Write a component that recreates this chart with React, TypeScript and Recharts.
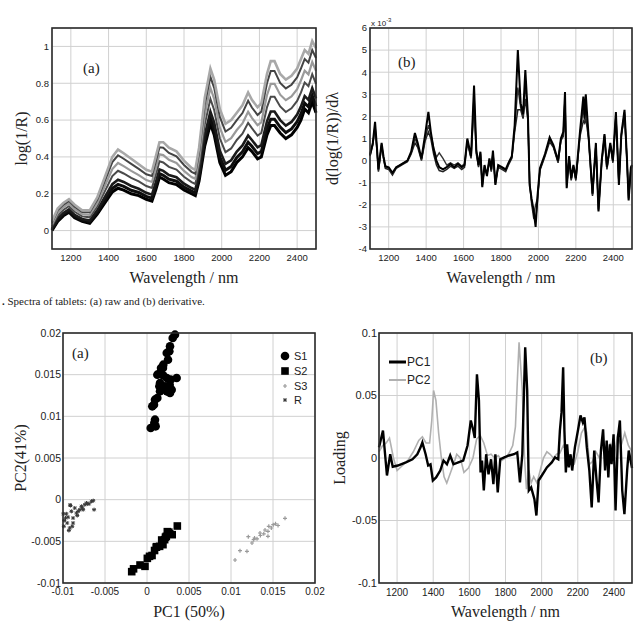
import React from "react";
import {
  LineChart,
  Line,
  XAxis,
  YAxis,
  CartesianGrid,
  ScatterChart,
  Scatter,
} from "recharts";

const SANS = "'Liberation Sans', Arial, sans-serif";
const SERIF = "'Liberation Serif', 'Times New Roman', serif";
const GRID = "#d0d0d0";
const FRAME = "#2b2b2b";

// ---------- (a) raw NIR spectra, log(1/R) ----------
const wavelengths = [
  1100, 1130, 1160, 1190, 1220, 1260, 1300, 1340, 1380, 1420,
  1450, 1480, 1520, 1560, 1600, 1630, 1650, 1670, 1690, 1720,
  1760, 1800, 1840, 1860, 1880, 1910, 1940, 1960, 1990, 2020,
  2050, 2080, 2110, 2140, 2160, 2190, 2210, 2240, 2260, 2280,
  2310, 2340, 2370, 2400, 2420, 2440, 2460, 2480, 2500,
];
const raw1 = [
  0.05, 0.12, 0.15, 0.17, 0.14, 0.11, 0.11, 0.18, 0.29, 0.4,
  0.44, 0.42, 0.39, 0.36, 0.33, 0.32, 0.4, 0.48, 0.48, 0.45,
  0.43, 0.38, 0.34, 0.33, 0.45, 0.72, 0.88, 0.82, 0.66, 0.58,
  0.6, 0.64, 0.68, 0.75, 0.71, 0.67, 0.69, 0.85, 0.92, 0.92,
  0.85, 0.82, 0.84, 0.88, 0.93, 0.98, 0.96, 1.03, 0.99,
];
const raw2 = [
  0.043, 0.11, 0.14, 0.16, 0.13, 0.101, 0.1, 0.167, 0.269, 0.372,
  0.409, 0.39, 0.362, 0.335, 0.306, 0.296, 0.373, 0.452, 0.45, 0.422,
  0.403, 0.356, 0.319, 0.309, 0.423, 0.681, 0.835, 0.775, 0.617, 0.538,
  0.558, 0.6, 0.638, 0.705, 0.668, 0.628, 0.646, 0.8, 0.867, 0.867,
  0.802, 0.772, 0.792, 0.832, 0.88, 0.932, 0.912, 0.98, 0.937,
];
const raw3 = [
  0.033, 0.096, 0.126, 0.146, 0.116, 0.089, 0.086, 0.149, 0.241, 0.334,
  0.367, 0.35, 0.324, 0.301, 0.274, 0.264, 0.337, 0.414, 0.41, 0.384,
  0.367, 0.324, 0.291, 0.281, 0.387, 0.629, 0.775, 0.715, 0.559, 0.482,
  0.502, 0.546, 0.582, 0.645, 0.612, 0.572, 0.588, 0.735, 0.797, 0.797,
  0.738, 0.708, 0.728, 0.768, 0.815, 0.868, 0.848, 0.915, 0.867,
];
const raw4 = [
  0.023, 0.082, 0.112, 0.132, 0.102, 0.077, 0.072, 0.131, 0.213, 0.296,
  0.325, 0.31, 0.286, 0.267, 0.242, 0.232, 0.301, 0.376, 0.37, 0.346,
  0.331, 0.292, 0.263, 0.253, 0.351, 0.577, 0.715, 0.655, 0.501, 0.426,
  0.446, 0.492, 0.526, 0.585, 0.556, 0.516, 0.53, 0.669, 0.727, 0.727,
  0.674, 0.644, 0.664, 0.704, 0.749, 0.804, 0.784, 0.849, 0.797,
];
const raw5 = [
  0.011, 0.065, 0.095, 0.115, 0.085, 0.063, 0.055, 0.11, 0.181, 0.252,
  0.276, 0.264, 0.242, 0.227, 0.205, 0.195, 0.26, 0.332, 0.324, 0.302,
  0.29, 0.255, 0.231, 0.221, 0.31, 0.517, 0.646, 0.586, 0.434, 0.362,
  0.382, 0.429, 0.462, 0.516, 0.492, 0.452, 0.464, 0.593, 0.647, 0.647,
  0.6, 0.57, 0.59, 0.63, 0.673, 0.73, 0.71, 0.773, 0.717,
];
const raw6 = [
  0.005, 0.057, 0.087, 0.107, 0.077, 0.056, 0.047, 0.099, 0.164, 0.229,
  0.251, 0.24, 0.219, 0.207, 0.186, 0.176, 0.238, 0.309, 0.3, 0.279,
  0.268, 0.236, 0.214, 0.204, 0.288, 0.486, 0.61, 0.55, 0.399, 0.328,
  0.348, 0.397, 0.428, 0.48, 0.458, 0.418, 0.429, 0.553, 0.605, 0.605,
  0.562, 0.532, 0.552, 0.592, 0.633, 0.692, 0.672, 0.733, 0.675,
];
const raw7 = [
  0.0, 0.05, 0.08, 0.1, 0.07, 0.05, 0.04, 0.09, 0.15, 0.21,
  0.23, 0.22, 0.2, 0.19, 0.17, 0.16, 0.22, 0.29, 0.28, 0.26,
  0.25, 0.22, 0.2, 0.19, 0.27, 0.46, 0.58, 0.52, 0.37, 0.3,
  0.32, 0.37, 0.4, 0.45, 0.43, 0.39, 0.4, 0.52, 0.57, 0.57,
  0.53, 0.5, 0.52, 0.56, 0.6, 0.66, 0.64, 0.7, 0.64,
];
const rawTicksY = [0, 0.2, 0.4, 0.6, 0.8, 1];

// ---------- (b) first derivative, units of 1e-3 ----------
const derivNm = [
  1100, 1115, 1127, 1137, 1145, 1155, 1162, 1172, 1182, 1200,
  1220, 1240, 1260, 1280, 1300, 1320, 1340, 1355, 1375, 1395,
  1412, 1425, 1440, 1455, 1470, 1490, 1510, 1530, 1550, 1570,
  1590, 1605, 1620, 1640, 1656, 1668, 1680, 1690, 1700, 1712,
  1725, 1738, 1748, 1757, 1770, 1785, 1805, 1825, 1840, 1858,
  1873, 1890, 1905, 1918, 1930, 1944, 1953, 1963, 1975, 1985,
  1995, 2008, 2035, 2060, 2080, 2105, 2120, 2133, 2142, 2151,
  2164, 2175, 2187, 2200, 2222, 2240, 2247, 2253, 2268, 2289,
  2307, 2321, 2338, 2353, 2366, 2384, 2398, 2414, 2430, 2443,
  2460, 2473, 2482, 2494, 2500,
];
const derivHigh = [
  0.25, 0.8, 1.75, 0.6, -0.4, 0.3, 0.8, 0.2, -0.25, -0.3,
  -0.55, -0.3, -0.2, -0.1, 0.0, 0.4, 1.25, 0.8, 0.1, 1.2,
  2.2, 1.3, 0.5, 0.0, -0.3, -0.4, -0.3, -0.15, -0.3, -0.15,
  -0.3, -0.2, 1.0, 0.2, 3.4, 0.5, -0.2, 0.4, -1.2, -0.2,
  -0.7, 0.1, -0.4, 0.45, -1.1, -0.2, -0.3, -0.4, -0.1, 0.2,
  1.6, 5.0, 2.6, 2.1, 4.1, 2.0, -1.1, -1.7, -2.3, -3.0,
  -1.6, -0.35, 0.3, 1.05, 0.7, 0.0, 1.0, 1.3, 3.1, -1.25,
  0.2, -0.8, -0.2, -0.8, 1.3, 2.9, 1.9, 3.0, 1.1, -1.5,
  0.8, -2.3, 0.0, 1.2, -0.3, 0.8, 0.0, 2.2, -1.1, 1.2,
  2.3, 0.1, -1.8, -0.3, -0.2,
];
const derivMid = [
  0.3, 0.75, 1.6, 0.55, -0.45, 0.25, 0.75, 0.15, -0.3, -0.35,
  -0.6, -0.3, -0.2, -0.1, 0.0, 0.35, 1.0, 0.7, 0.05, 1.0,
  1.6, 1.2, 0.6, 0.15, 0.35, 0.1, -0.2, -0.1, -0.2, -0.1,
  -0.25, -0.15, 0.9, 0.15, 3.0, 0.4, -0.25, 0.35, -1.15, -0.25,
  -0.65, 0.05, -0.45, 0.4, -1.05, -0.25, -0.35, -0.45, -0.15, 0.15,
  1.45, 3.3, 2.4, 2.0, 3.5, 1.9, -1.05, -1.8, -2.4, -2.0,
  -1.7, -0.4, 0.25, 0.95, 0.65, -0.05, 0.95, 1.2, 2.9, -1.2,
  0.15, -0.85, -0.25, -0.85, 1.2, 2.4, 1.8, 2.5, 1.05, -1.55,
  0.75, -2.25, -0.05, 1.15, -0.35, 0.75, -0.05, 2.1, -1.05, 1.15,
  2.2, 0.05, -1.75, -0.35, -0.25,
];
const derivLow = [
  0.2, 0.7, 1.5, 0.5, -0.5, 0.2, 0.7, 0.1, -0.35, -0.4,
  -0.65, -0.35, -0.25, -0.15, -0.05, 0.3, 0.8, 0.6, 0.0, 0.9,
  1.3, 1.0, 0.3, -0.2, -0.45, -0.5, -0.4, -0.25, -0.35, -0.25,
  -0.4, -0.3, 0.8, 0.1, 2.6, 0.3, -0.3, 0.3, -1.1, -0.3,
  -0.6, 0.0, -0.5, 0.3, -1.0, -0.3, -0.4, -0.5, -0.2, 0.1,
  1.3, 2.3, 2.3, 1.9, 2.8, 1.8, -1.0, -1.9, -2.6, -2.7,
  -1.8, -0.45, 0.2, 0.85, 0.6, -0.1, 0.9, 1.1, 2.8, -1.1,
  0.1, -0.9, -0.3, -0.9, 1.1, 1.8, 1.7, 1.9, 1.0, -1.6,
  0.7, -2.2, -0.1, 1.1, -0.4, 0.7, -0.1, 2.0, -1.0, 1.1,
  2.1, 0.0, -1.7, -0.4, -0.3,
];
const derivTicksY = [-4, -3, -2, -1, 0, 1, 2, 3, 4, 5, 6];

const nmTicks = [1200, 1400, 1600, 1800, 2000, 2200, 2400];

// ---------- PCA scores: [PC1, PC2] ----------
const scoresS1 = [
  [0.00333, 0.0198], [0.00306, 0.0194], [0.00274, 0.0184], [0.00266, 0.0178],
  [0.00235, 0.0176], [0.0025, 0.0168], [0.00194, 0.0162], [0.00167, 0.0158],
  [0.0019, 0.0158], [0.00155, 0.0152], [0.00123, 0.015], [0.00194, 0.0149],
  [0.00235, 0.0146], [0.00282, 0.0144], [0.00353, 0.0146], [0.00155, 0.014],
  [0.0027, 0.0138], [0.00147, 0.0136], [0.00214, 0.0136], [0.00254, 0.0134],
  [0.00294, 0.0132], [0.00155, 0.013], [0.00235, 0.013], [0.00274, 0.0128],
  [0.00123, 0.0122], [0.00095, 0.012], [0.00083, 0.0114], [0.00063, 0.0112],
  [0.00095, 0.0096], [0.00087, 0.0092], [0.00103, 0.0088], [0.00044, 0.0086],
];
const scoresS2 = [
  [-0.00182, -0.00864], [-0.0016, -0.0083], [-0.00083, -0.00784], [-0.00024, -0.008],
  [0.00004, -0.00704], [0.0003, -0.0068], [0.0006, -0.0067], [0.0009, -0.0061],
  [0.00115, -0.00564], [0.0011, -0.0057], [0.0015, -0.0056], [0.00175, -0.00484],
  [0.0019, -0.0054], [0.0021, -0.0048], [0.0023, -0.0044], [0.00242, -0.00384],
  [0.0027, -0.0041], [0.003, -0.0042], [0.00361, -0.00316], [0.0018, -0.005],
  [0.0022, -0.0045], [0.0026, -0.0039],
];
const scoresS3 = [
  [0.01048, -0.00724], [0.01107, -0.00612], [0.0119, -0.0062], [0.01206, -0.00444],
  [0.0125, -0.0052], [0.0127, -0.0048], [0.0131, -0.0047], [0.01345, -0.004],
  [0.01405, -0.00364], [0.0144, -0.0038], [0.0145, -0.0032], [0.01503, -0.003],
  [0.0153, -0.0029], [0.01643, -0.00224], [0.0144, -0.0044], [0.0139, -0.0041],
  [0.0135, -0.0043], [0.0128, -0.0046], [0.0148, -0.0034], [0.0156, -0.0031],
];
const scoresR = [
  [-0.00985, -0.0025], [-0.0096, -0.0017], [-0.0094, -0.0021], [-0.00917, -0.00064],
  [-0.009, -0.0014], [-0.0088, -0.0028], [-0.0088, -0.0022], [-0.0086, -0.001],
  [-0.0084, -0.0016], [-0.0082, -0.0014], [-0.008, -0.0012], [-0.0078, -0.0008],
  [-0.0076, -0.0012], [-0.0074, -0.0006], [-0.0072, -0.0004], [-0.0069, -0.0005],
  [-0.0066, -0.0002], [-0.0064, -0.00012], [-0.0063, -0.0012], [-0.0092, -0.0034],
  [-0.0089, -0.0032], [-0.00995, -0.0017], [-0.0099, -0.0032], [-0.0095, -0.0028],
  [-0.0093, -0.0037], [-0.0091, -0.0007], [-0.0071, -0.0005], [-0.0097, -0.0022],
  [-0.0083, -0.0019], [-0.0077, -0.001],
];
const scoreTicks = [-0.01, -0.005, 0, 0.005, 0.01, 0.015, 0.02];

// ---------- PCA loadings ----------
const pc1Nm = [
  1100, 1122, 1144, 1162, 1176, 1204, 1249, 1285, 1312, 1330,
  1340, 1358, 1372, 1385, 1398, 1416, 1439, 1457, 1476, 1494,
  1512, 1539, 1566, 1590, 1608, 1622, 1630, 1642, 1653, 1662,
  1670, 1680, 1693, 1706, 1720, 1733, 1744, 1757, 1771, 1793,
  1820, 1847, 1865, 1880, 1893, 1909, 1920, 1929, 1942, 1960,
  1971, 1983, 2001, 2029, 2056, 2074, 2092, 2101, 2110, 2119,
  2126, 2134, 2141, 2150, 2160, 2169, 2184, 2202, 2215, 2228,
  2237, 2250, 2264, 2277, 2291, 2304, 2315, 2328, 2340, 2351,
  2360, 2369, 2378, 2387, 2398, 2409, 2422, 2433, 2446, 2458,
  2473, 2482, 2500,
];
const pc1Loading = [
  0.0085, 0.022, -0.014, 0.003, -0.007, -0.006, -0.0035, -0.001, 0.003, 0.0085,
  0.0125, 0.003, -0.006, -0.005, -0.018, -0.0155, -0.01, -0.002, -0.005, 0.002,
  -0.005, -0.0035, -0.002, 0.01, 0.03, 0.022, 0.016, 0.067, 0.046, -0.0115,
  -0.002, -0.026, 0.003, -0.013, -0.001, -0.021, 0.003, -0.0275, -0.001, 0.0005,
  0.002, 0.003, 0.0045, -0.0195, 0.003, 0.0885, 0.054, -0.026, -0.0235, -0.033,
  -0.046, -0.018, -0.014, -0.0075, -0.0035, 0.0005, -0.001, 0.022, 0.0365, 0.0725,
  0.022, -0.0115, 0.011, -0.0075, 0.003, -0.01, 0.0085, 0.023, 0.034, 0.0285,
  0.0325, 0.0085, -0.01, -0.0395, 0.006, -0.018, -0.0355, 0.006, 0.023, -0.01,
  0.014, -0.0155, 0.011, -0.005, 0.019, -0.042, 0.0165, 0.03, -0.026, -0.045,
  -0.01, 0.006, -0.008,
];
const pc2Nm = [
  1100, 1120, 1140, 1158, 1180, 1200, 1230, 1260, 1290, 1320,
  1340, 1360, 1380, 1392, 1402, 1415, 1430, 1445, 1460, 1475,
  1495, 1515, 1530, 1550, 1570, 1595, 1620, 1640, 1660, 1680,
  1700, 1720, 1740, 1760, 1780, 1800, 1820, 1840, 1855, 1865,
  1875, 1893, 1905, 1916, 1929, 1942, 1956, 1974, 1992, 2010,
  2029, 2047, 2065, 2083, 2101, 2120, 2140, 2160, 2180, 2200,
  2220, 2240, 2250, 2265, 2280, 2300, 2320, 2340, 2360, 2380,
  2400, 2420, 2440, 2460, 2480, 2500,
];
const pc2Loading = [
  0.005, 0.01, 0.012, 0.016, 0.0, -0.01, -0.006, -0.002, 0.005, 0.014,
  0.017, 0.012, 0.012, 0.03, 0.054, 0.046, 0.02, 0.0, -0.015, -0.02,
  -0.012, -0.004, 0.003, 0.0, -0.0115, -0.008, 0.0, 0.015, 0.018, 0.012,
  0.002, 0.003, 0.0, 0.002, -0.002, 0.0, 0.004, 0.01, 0.025, 0.06,
  0.0925, 0.054, 0.0, -0.025, -0.01, -0.02, -0.015, -0.02, -0.01, 0.0,
  0.005, 0.003, 0.0, 0.003, 0.004, 0.01, 0.005, -0.005, -0.005, 0.005,
  0.02, 0.025, 0.02, -0.005, -0.003, 0.005, 0.0, 0.01, 0.0, 0.012,
  0.0, 0.018, 0.01, 0.02, 0.01, 0.005,
];
const loadingTicks = [-0.1, -0.05, 0, 0.05, 0.1];

// table rows for the shared-x line charts
const rawSeries = [
  { key: "raw7", values: raw7, color: "#000", width: 3 },
  { key: "raw6", values: raw6, color: "#0d0d0d", width: 3 },
  { key: "raw5", values: raw5, color: "#1a1a1a", width: 2.6 },
  { key: "raw4", values: raw4, color: "#4a4a4a", width: 2 },
  { key: "raw3", values: raw3, color: "#9a9a9a", width: 2.2 },
  { key: "raw2", values: raw2, color: "#444", width: 2 },
  { key: "raw1", values: raw1, color: "#a8a8a8", width: 2.6 },
];
const rawRows = wavelengths.map((nm, i) => {
  const row: Record<string, number> = { nm };
  rawSeries.forEach((s) => (row[s.key] = s.values[i]));
  return row;
});

const derivSeries = [
  { key: "low", values: derivLow, color: "#222", width: 1.5 },
  { key: "mid", values: derivMid, color: "#333", width: 1.4 },
  { key: "high", values: derivHigh, color: "#000", width: 2 },
];
const derivRows = derivNm.map((nm, i) => {
  const row: Record<string, number> = { nm };
  derivSeries.forEach((s) => (row[s.key] = s.values[i]));
  return row;
});

const pc1Rows = pc1Nm.map((nm, i) => ({ nm, v: pc1Loading[i] }));
const pc2Rows = pc2Nm.map((nm, i) => ({ nm, v: pc2Loading[i] }));
const toXY = (pts: number[][]) => pts.map(([pc1, pc2]) => ({ pc1, pc2 }));

const tick = (size: number) => ({ fontSize: size, fill: "#222", fontFamily: SANS });
const titleStyle = { fontFamily: SERIF, fontSize: 16, fill: "#222" };
const yTitle = (value: string, offset: number) => ({
  value,
  angle: -90,
  position: "insideLeft" as const,
  offset,
  style: { ...titleStyle, textAnchor: "middle" },
});
const xTitle = (value: string, offset: number) => ({
  value,
  position: "insideBottom" as const,
  offset,
  style: titleStyle,
});

// scatter markers
const CircleMark = (p: any) => <circle cx={p.cx} cy={p.cy} r={4.3} fill="#000" />;
const SquareMark = (p: any) => (
  <rect x={p.cx - 3.8} y={p.cy - 3.8} width={7.6} height={7.6} fill="#000" />
);
const PlusMark = (p: any) => (
  <path
    d={`M${p.cx - 2},${p.cy}h4M${p.cx},${p.cy - 2}v4`}
    stroke="#9a9a9a"
    strokeWidth={1.2}
  />
);
const StarMark = (p: any) => (
  <path
    d={`M${p.cx - 2},${p.cy}h4M${p.cx},${p.cy - 2}v4M${p.cx - 1.5},${p.cy - 1.5}l3,3M${p.cx - 1.5},${p.cy + 1.5}l3,-3`}
    stroke="#3a3a3a"
    strokeWidth={1}
  />
);

// axes box around a plot area, as a plain svg rectangle
function PlotFrame({ left, top, width, height }: { left: number; top: number; width: number; height: number }) {
  return (
    <svg
      width={width + 6}
      height={height + 6}
      style={{ position: "absolute", left: left - 3, top: top - 3, pointerEvents: "none" }}
    >
      <rect x={3} y={3} width={width} height={height} fill="none" stroke={FRAME} strokeWidth={1.6} />
    </svg>
  );
}

function RawPanel() {
  return (
    <LineChart width={322} height={290} data={rawRows} margin={{ top: 28, right: 6, bottom: 0, left: 0 }}>
      <CartesianGrid stroke={GRID} />
      <XAxis
        dataKey="nm"
        type="number"
        domain={[1100, 2500]}
        ticks={nmTicks}
        interval={0}
        height={41}
        axisLine={false}
        tickLine={false}
        tickSize={0}
        tickMargin={5}
        tick={tick(9.5)}
        label={xTitle("Wavelength / nm", 7)}
      />
      <YAxis
        type="number"
        domain={[-0.1, 1.1]}
        ticks={rawTicksY}
        interval={0}
        width={52}
        axisLine={false}
        tickLine={false}
        tickSize={0}
        tickMargin={3}
        tick={tick(9.5)}
        label={yTitle("log(1/R)", 21)}
      />
      {rawSeries.map((s) => (
        <Line
          key={s.key}
          dataKey={s.key}
          type="linear"
          stroke={s.color}
          strokeWidth={s.width}
          dot={false}
          isAnimationActive={false}
        />
      ))}
    </LineChart>
  );
}

function DerivativePanel() {
  return (
    <LineChart width={318} height={290} data={derivRows} margin={{ top: 28, right: 6, bottom: 0, left: 0 }}>
      <CartesianGrid stroke={GRID} />
      <XAxis
        dataKey="nm"
        type="number"
        domain={[1100, 2500]}
        ticks={nmTicks}
        interval={0}
        height={41}
        axisLine={false}
        tickLine={false}
        tickSize={0}
        tickMargin={5}
        tick={tick(9.5)}
        label={xTitle("Wavelength / nm", 7)}
      />
      <YAxis
        type="number"
        domain={[-4, 6]}
        ticks={derivTicksY}
        interval={0}
        width={50}
        axisLine={false}
        tickLine={false}
        tickSize={0}
        tickMargin={3}
        tick={tick(9.5)}
        label={yTitle("d(log(1/R))/dλ", 12)}
      />
      {derivSeries.map((s) => (
        <Line
          key={s.key}
          dataKey={s.key}
          type="linear"
          stroke={s.color}
          strokeWidth={s.width}
          dot={false}
          isAnimationActive={false}
        />
      ))}
    </LineChart>
  );
}

function ScoresPanel() {
  return (
    <ScatterChart width={332} height={316} margin={{ top: 23, right: 17, bottom: 0, left: 0 }}>
      <CartesianGrid stroke={GRID} />
      <XAxis
        dataKey="pc1"
        type="number"
        domain={[-0.01, 0.02]}
        ticks={scoreTicks}
        interval={0}
        height={43}
        axisLine={false}
        tickLine={false}
        tickSize={0}
        tickMargin={5}
        tick={tick(10)}
        label={xTitle("PC1 (50%)", 9)}
      />
      <YAxis
        dataKey="pc2"
        type="number"
        domain={[-0.01, 0.02]}
        ticks={scoreTicks}
        interval={0}
        width={63}
        axisLine={false}
        tickLine={false}
        tickSize={0}
        tickMargin={2}
        tick={tick(10.5)}
        label={yTitle("PC2(41%)", 20)}
      />
      <Scatter name="R" data={toXY(scoresR)} shape={StarMark} isAnimationActive={false} />
      <Scatter name="S3" data={toXY(scoresS3)} shape={PlusMark} isAnimationActive={false} />
      <Scatter name="S2" data={toXY(scoresS2)} shape={SquareMark} isAnimationActive={false} />
      <Scatter name="S1" data={toXY(scoresS1)} shape={CircleMark} isAnimationActive={false} />
    </ScatterChart>
  );
}

function LoadingsPanel() {
  return (
    <LineChart width={318} height={316} margin={{ top: 23, right: 6, bottom: 0, left: 0 }}>
      <CartesianGrid stroke={GRID} />
      <XAxis
        dataKey="nm"
        type="number"
        domain={[1100, 2500]}
        ticks={nmTicks}
        interval={0}
        height={43}
        axisLine={false}
        tickLine={false}
        tickSize={0}
        tickMargin={6}
        tick={tick(10)}
        label={xTitle("Wavelength / nm", 9)}
      />
      <YAxis
        type="number"
        domain={[-0.1, 0.1]}
        ticks={loadingTicks}
        interval={0}
        width={59}
        axisLine={false}
        tickLine={false}
        tickSize={0}
        tickMargin={2}
        tick={tick(11)}
        label={yTitle("Loading", 19)}
      />
      <Line data={pc2Rows} dataKey="v" name="PC2" type="linear" stroke="#b0b0b0" strokeWidth={1.6} dot={false} isAnimationActive={false} />
      <Line data={pc1Rows} dataKey="v" name="PC1" type="linear" stroke="#000" strokeWidth={2.4} dot={false} isAnimationActive={false} />
    </LineChart>
  );
}

const abs = (left: number, top: number): React.CSSProperties => ({ position: "absolute", left, top });
const panelTag: React.CSSProperties = { fontFamily: SERIF, fontSize: 15, lineHeight: "15px", color: "#222" };
const legendText: React.CSSProperties = { fontFamily: SANS, fontSize: 11, lineHeight: "14px", color: "#222" };

// plot areas of the four panels: left, top, width, height
const plotBoxes = [
  [52, 28, 264, 221],
  [370, 28, 262, 221],
  [63, 333, 252, 250],
  [379, 333, 253, 250],
];

const scoreLegend = [
  { label: "S1", mark: CircleMark },
  { label: "S2", mark: SquareMark },
  { label: "S3", mark: PlusMark },
  { label: "R", mark: StarMark },
];
const loadingLegend = [
  { label: "PC1", color: "#000", width: 3 },
  { label: "PC2", color: "#b0b0b0", width: 2 },
];

export default function App() {
  return (
    <div style={{ position: "absolute", left: 0, top: 0, width: 638, height: 626, background: "#fff", overflow: "hidden" }}>
      <div style={abs(0, 0)}>
        <RawPanel />
      </div>
      <div style={abs(320, 0)}>
        <DerivativePanel />
      </div>
      <div style={abs(0, 310)}>
        <ScoresPanel />
      </div>
      <div style={abs(320, 310)}>
        <LoadingsPanel />
      </div>

      {plotBoxes.map(([l, t, w, h], i) => (
        <PlotFrame key={i} left={l} top={t} width={w} height={h} />
      ))}

      <div style={{ ...abs(83, 61), ...panelTag }}>(a)</div>
      <div style={{ ...abs(398, 55), ...panelTag }}>(b)</div>
      <div style={{ ...abs(72, 346), ...panelTag }}>(a)</div>
      <div style={{ ...abs(590, 351), ...panelTag }}>(b)</div>

      <div style={{ ...abs(371, 15), fontFamily: SANS, fontSize: 8, color: "#222", lineHeight: "10px" }}>
        x 10<sup style={{ fontSize: 6 }}>-3</sup>
      </div>

      <div style={{ ...abs(2, 295), fontFamily: SERIF, fontSize: 11, color: "#222", whiteSpace: "nowrap" }}>
        <b>.</b> Spectra of tablets: (a) raw and (b) derivative.
      </div>

      {scoreLegend.map((item, i) => (
        <div key={item.label} style={{ ...abs(279, 349 + i * 14.8), display: "flex", alignItems: "center" }}>
          <svg width={12} height={14}>
            <item.mark cx={6} cy={7} />
          </svg>
          <span style={{ ...legendText, marginLeft: 3 }}>{item.label}</span>
        </div>
      ))}

      {loadingLegend.map((item, i) => (
        <div key={item.label} style={{ ...abs(389, 355 + i * 18.4), display: "flex", alignItems: "center" }}>
          <svg width={17} height={14}>
            <line x1={0} y1={7} x2={17} y2={7} stroke={item.color} strokeWidth={item.width} />
          </svg>
          <span style={{ ...legendText, fontSize: 12, marginLeft: 1 }}>{item.label}</span>
        </div>
      ))}
    </div>
  );
}
